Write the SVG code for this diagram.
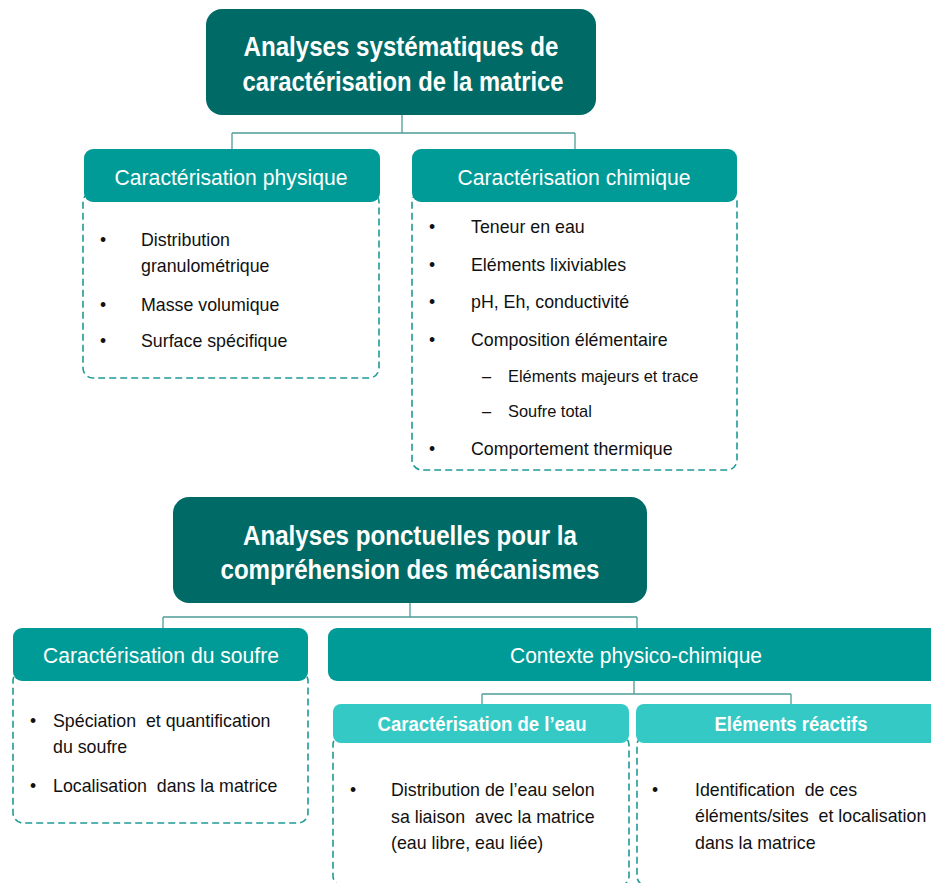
<svg xmlns="http://www.w3.org/2000/svg" width="931" height="883" viewBox="0 0 931 883">
<style>
.main{fill:#006b66}
.mid{fill:#009b96}
.light{fill:#35c9c6}
.dash{fill:#fff;stroke:#1f9a96;stroke-width:1.6;stroke-dasharray:7 4}
.conn{fill:none;stroke:#4f9c98;stroke-width:1.3}
.tmain{font-family:"Liberation Sans",Arial,sans-serif;font-weight:bold;font-size:28px;fill:#fff;text-anchor:middle}
.thead{font-family:"Liberation Sans",Arial,sans-serif;font-size:22.5px;fill:#fff;text-anchor:middle}
.tsub{font-family:"Liberation Sans",Arial,sans-serif;font-weight:bold;font-size:20px;fill:#fff;text-anchor:middle}
.tb{font-family:"Liberation Sans",Arial,sans-serif;font-size:17.8px;fill:#111;white-space:pre}
.ts{font-family:"Liberation Sans",Arial,sans-serif;font-size:16.4px;fill:#111}
.bul{font-family:"Liberation Sans",Arial,sans-serif;font-size:17.5px;fill:#111;text-anchor:middle}
</style>
<rect width="931" height="883" fill="#fff"/>

<g id="connectors">
<path class="conn" d="M402 115V133M232 133H575M232 133V149M575 133V149"/>
<path class="conn" d="M410 603V617M163 617H637M163 617V628M637 617V628"/>
<path class="conn" d="M634 681V694M482 694H791M482 694V705M791 694V705"/>
</g>

<g id="n_systematiques">
<rect class="main" x="206" y="9" width="390" height="106" rx="16"/>
<text class="tmain" x="401" y="56" textLength="315" lengthAdjust="spacingAndGlyphs">Analyses systématiques de</text>
<text class="tmain" x="403" y="91" textLength="321" lengthAdjust="spacingAndGlyphs">caractérisation de la matrice</text>
</g>

<g id="n_physique">
<rect class="dash" x="83" y="192" width="296" height="186" rx="10"/>
<rect class="mid" x="84" y="149" width="296" height="53" rx="9"/>
<text class="thead" x="231" y="185" textLength="233" lengthAdjust="spacingAndGlyphs">Caractérisation physique</text>
<text class="bul" x="103" y="246">•</text>
<text class="tb" x="141" y="246">Distribution</text>
<text class="tb" x="141" y="272">granulométrique</text>
<text class="bul" x="103" y="311">•</text>
<text class="tb" x="141" y="311">Masse volumique</text>
<text class="bul" x="103" y="347">•</text>
<text class="tb" x="141" y="347">Surface spécifique</text>
</g>

<g id="n_chimique">
<rect class="dash" x="412" y="192" width="325" height="278" rx="10"/>
<rect class="mid" x="412" y="149" width="325" height="53" rx="9"/>
<text class="thead" x="574" y="185" textLength="233" lengthAdjust="spacingAndGlyphs">Caractérisation chimique</text>
<text class="bul" x="432" y="233">•</text>
<text class="tb" x="471" y="233">Teneur en eau</text>
<text class="bul" x="432" y="271">•</text>
<text class="tb" x="471" y="271">Eléments lixiviables</text>
<text class="bul" x="432" y="308">•</text>
<text class="tb" x="471" y="308">pH, Eh, conductivité</text>
<text class="bul" x="432" y="346">•</text>
<text class="tb" x="471" y="346">Composition élémentaire</text>
<text class="ts" x="482" y="382">–</text>
<text class="ts" x="508" y="382">Eléments majeurs et trace</text>
<text class="ts" x="482" y="417">–</text>
<text class="ts" x="508" y="417">Soufre total</text>
<text class="bul" x="432" y="455">•</text>
<text class="tb" x="471" y="455">Comportement thermique</text>
</g>

<g id="n_ponctuelles">
<rect class="main" x="173" y="497" width="474" height="106" rx="16"/>
<text class="tmain" x="410" y="545" textLength="334" lengthAdjust="spacingAndGlyphs">Analyses ponctuelles pour la</text>
<text class="tmain" x="410" y="579" textLength="379" lengthAdjust="spacingAndGlyphs">compréhension des mécanismes</text>
</g>

<g id="n_soufre">
<rect class="dash" x="13" y="671" width="295" height="152" rx="10"/>
<rect class="mid" x="13" y="628" width="295" height="53" rx="9"/>
<text class="thead" x="161" y="663" textLength="236" lengthAdjust="spacingAndGlyphs">Caractérisation du soufre</text>
<text class="bul" x="33" y="727">•</text>
<text class="tb" x="53" y="727">Spéciation  et quantification</text>
<text class="tb" x="53" y="753">du soufre</text>
<text class="bul" x="33" y="792">•</text>
<text class="tb" x="53" y="792">Localisation  dans la matrice</text>
</g>

<g id="n_contexte">
<rect class="mid" x="328" y="628" width="620" height="53" rx="9"/>
<text class="thead" x="636" y="663" textLength="252" lengthAdjust="spacingAndGlyphs">Contexte physico-chimique</text>
</g>

<g id="n_eau">
<rect class="dash" x="333" y="735" width="296" height="151" rx="10"/>
<rect class="light" x="333" y="704" width="296" height="39" rx="8"/>
<text class="tsub" x="482" y="731" textLength="209" lengthAdjust="spacingAndGlyphs">Caractérisation de l’eau</text>
<text class="bul" x="353" y="796">•</text>
<text class="tb" x="391" y="796">Distribution de l’eau selon</text>
<text class="tb" x="391" y="823">sa liaison  avec la matrice</text>
<text class="tb" x="391" y="849">(eau libre, eau liée)</text>
</g>

<g id="n_reactifs">
<rect class="dash" x="637" y="735" width="310" height="151" rx="10"/>
<rect class="light" x="636" y="704" width="310" height="39" rx="8"/>
<text class="tsub" x="791" y="731" textLength="153" lengthAdjust="spacingAndGlyphs">Eléments réactifs</text>
<text class="bul" x="655" y="796">•</text>
<text class="tb" x="695" y="796">Identification  de ces</text>
<text class="tb" x="695" y="822">éléments/sites  et localisation</text>
<text class="tb" x="695" y="849">dans la matrice</text>
</g>
</svg>
